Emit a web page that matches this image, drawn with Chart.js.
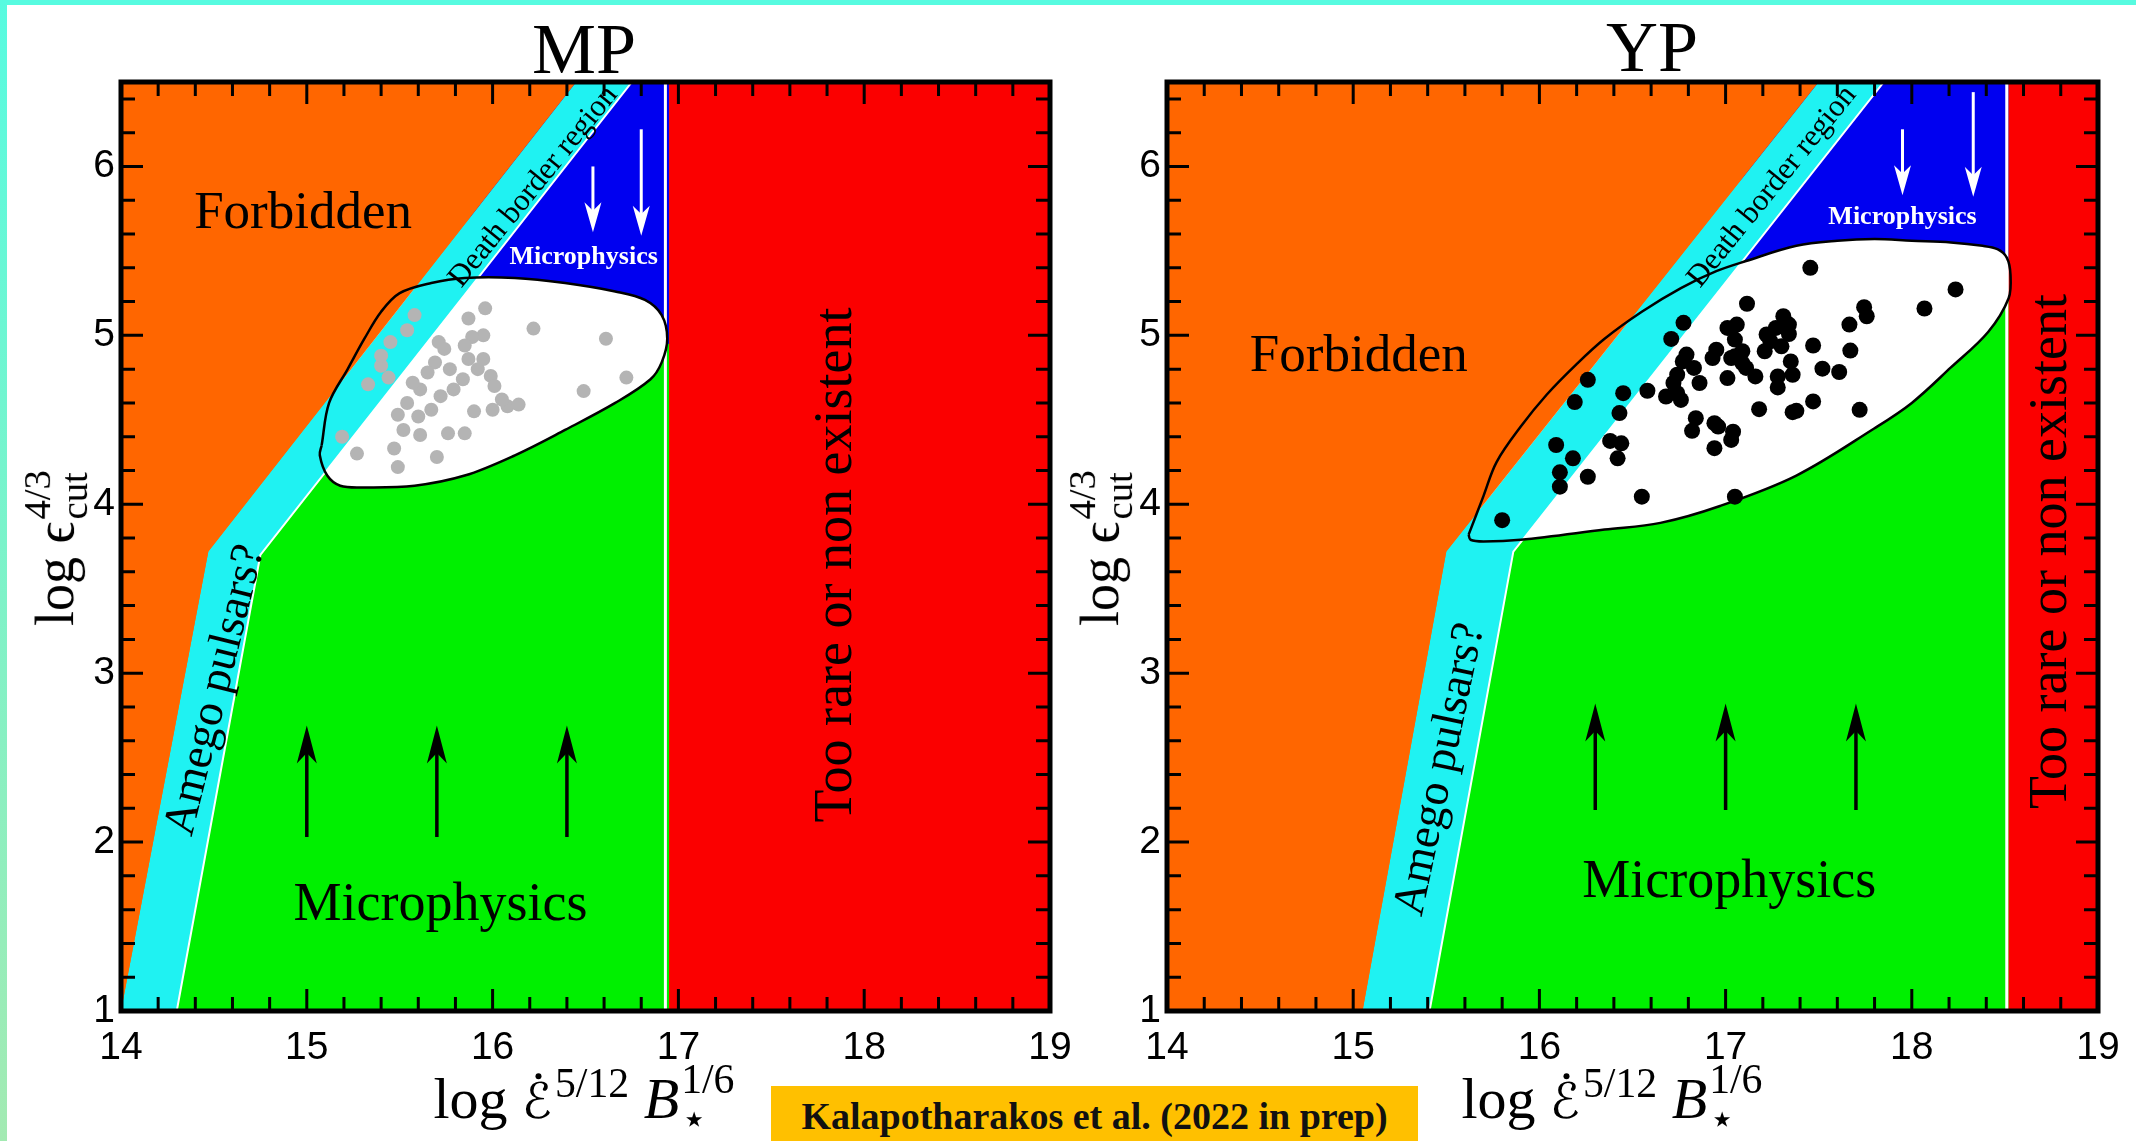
<!DOCTYPE html>
<html>
<head>
<meta charset="utf-8">
<title>MP / YP death-line diagram</title>
<script src="https://cdn.jsdelivr.net/npm/chart.js@4.4.1/dist/chart.umd.min.js"></script>
<style>
  html, body { margin: 0; padding: 0; }
  body { width: 2136px; height: 1141px; position: relative; overflow: hidden; background: #fff; }
  .edge-top { position: absolute; left: 0; top: 0; width: 2136px; height: 5px; background: #57fbe0; }
  .edge-left { position: absolute; left: 0; top: 0; width: 7px; height: 1141px; background: linear-gradient(#57fbe0, #a3eab2); }
  canvas { position: absolute; top: 0; }
  .tex { position: absolute; font-family: "Liberation Serif", "DejaVu Serif", serif; color: #000; white-space: nowrap; line-height: 1; transform: translate(-50%, -50%); }
  .ptitle { font-size: 72px; }
  .axt { font-size: 58px; }
  .yt { font-size: 54px; }
  .rot { transform: translate(-50%, -50%) rotate(-90deg); }
  .sup { font-size: 0.72em; vertical-align: 0.5em; }
  .ss { display: inline-block; font-size: 0.72em; line-height: 0.95; vertical-align: -0.36em; text-align: left; margin-left: 2px; }
  .ss span { display: block; }
  .cal { position: relative; font-family: "DejaVu Sans", sans-serif; font-size: 0.85em; margin-right: 3px; }
  .dot { position: absolute; left: 46%; top: 0.02em; width: 6px; height: 6px; border-radius: 50%; background: #000; }
  .credit { position: absolute; left: 771px; top: 1086px; width: 647px; height: 55px; background: #ffc000;
            font: bold 38px "Liberation Serif", serif; color: #111; text-align: center; line-height: 60px; }
</style>
</head>
<body>
<div class="edge-top"></div>
<div class="edge-left"></div>
<canvas id="mp" width="1100" height="1141" style="left:0"></canvas>
<canvas id="yp" width="1068" height="1141" style="left:1068px"></canvas>

<div class="tex ptitle" style="left:584px; top:49px">MP</div>
<div class="tex ptitle" style="left:1652px; top:47px">YP</div>

<div class="tex axt" style="left:584px; top:1100px">log <span class="cal">ℰ<i class="dot"></i></span><span class="sup">5/12</span> <i>B</i><span class="ss"><span>1/6</span><span>⋆</span></span></div>
<div class="tex axt" style="left:1612px; top:1100px">log <span class="cal">ℰ<i class="dot"></i></span><span class="sup">5/12</span> <i>B</i><span class="ss"><span>1/6</span><span>⋆</span></span></div>

<div class="tex yt rot" style="left:56px; top:548px">log ϵ<span class="ss"><span>4/3</span><span>cut</span></span></div>
<div class="tex yt rot" style="left:1101px; top:548px">log ϵ<span class="ss"><span>4/3</span><span>cut</span></span></div>

<div class="credit">Kalapotharakos et al. (2022 in prep)</div>

<script>
// axes
const xTicks = [14, 15, 16, 17, 18, 19];
const yTicks = [1, 2, 3, 4, 5, 6];
const xRange = [14, 19];
const yRange = [1, 6.5];

// ---- MP panel: region outlines (data units) ----
const mpBaseX = [14, 19, 19, 14];
const mpBaseY = [1, 1, 6.5, 6.5];
const mpForbidX = [14, 14.47, 16.45, 14];
const mpForbidY = [1, 3.72, 6.5, 6.5];
const mpCyanX = [14.0, 14.30, 14.75, 16.75, 16.45, 14.47];
const mpCyanY = [1, 1, 3.70, 6.5, 6.5, 3.72];
const mpCyanEdgeX = [14.30, 14.75, 16.75];
const mpCyanEdgeY = [1, 3.70, 6.5];
const mpGreenX = [14.25, 14.75, 15.3, 16.95, 16.95];
const mpGreenY = [1, 3.70, 4.6, 4.95, 1];
const mpBlueX = [15.3, 16.95, 16.95, 16.3];
const mpBlueY = [4.6, 4.95, 6.5, 6.5];
const mpRedX = [16.95, 19, 19, 16.95];
const mpRedY = [1, 1, 6.5, 6.5];
const mpSepX = [16.93, 16.93];
const mpSepY = [1, 6.5];
const mpEllX = [15.08, 15.12, 15.22, 15.31, 15.40, 15.50, 15.67, 15.85, 16.12, 16.39, 16.66, 16.82, 16.91, 16.94,
                16.91, 16.85, 16.66, 16.39, 16.12, 15.85, 15.58, 15.31, 15.18, 15.11, 15.07, 15.08];
const mpEllY = [4.35, 4.60, 4.80, 4.98, 5.14, 5.25, 5.31, 5.34, 5.34, 5.31, 5.26, 5.21, 5.12, 4.98,
                4.84, 4.74, 4.60, 4.44, 4.29, 4.17, 4.11, 4.10, 4.11, 4.17, 4.29, 4.35];
const mpDotX = [15.96, 15.87, 15.95, 15.89, 16.22, 16.61, 16.72, 16.49, 15.58, 15.54, 15.45, 15.40, 15.33, 15.44,
                15.71, 15.74, 15.69, 15.65, 15.87, 15.92, 15.99, 16.01, 15.84, 15.79, 15.72, 15.61, 15.54, 15.49,
                15.52, 15.61, 15.76, 15.85, 15.90, 16.00, 16.08, 16.14, 15.19, 15.27, 15.47, 15.70, 15.49, 15.60,
                15.67, 15.57, 15.77, 15.85, 15.95, 16.05, 15.40];
const mpDotY = [5.16, 5.10, 5.00, 4.99, 5.04, 4.98, 4.75, 4.67, 5.12, 5.03, 4.96, 4.82, 4.71, 4.75,
                4.96, 4.92, 4.84, 4.78, 4.86, 4.80, 4.76, 4.70, 4.74, 4.68, 4.64, 4.68, 4.60, 4.53,
                4.44, 4.41, 4.42, 4.42, 4.55, 4.56, 4.58, 4.59, 4.40, 4.30, 4.33, 4.28, 4.22, 4.52,
                4.56, 4.72, 4.80, 4.94, 4.86, 4.62, 4.88];
const mpUpX = [15.0, 15.7, 16.4];
const mpUpFrom = 2.03, mpUpTo = 2.69;
const mpDownX = [16.54, 16.80];
const mpDownFrom = [6.0, 6.22];
const mpDownTo = [5.61, 5.59];

// ---- YP panel ----
const ypBaseX = [14, 19, 19, 14];
const ypBaseY = [1, 1, 6.5, 6.5];
const ypForbidX = [14, 15.05, 15.5, 17.50, 14];
const ypForbidY = [1, 1, 3.72, 6.5, 6.5];
const ypCyanX = [15.05, 15.41, 15.86, 17.85, 17.50, 15.5];
const ypCyanY = [1, 1, 3.72, 6.5, 6.5, 3.72];
const ypCyanEdgeX = [15.41, 15.86, 17.85];
const ypCyanEdgeY = [1, 3.72, 6.5];
const ypGreenX = [15.38, 15.86, 16.2, 18.52, 18.52];
const ypGreenY = [1, 3.72, 4.3, 5.3, 1];
const ypBlueX = [16.2, 18.52, 18.52, 17.4];
const ypBlueY = [4.3, 5.3, 6.5, 6.5];
const ypRedX = [18.52, 19, 19, 18.52];
const ypRedY = [1, 1, 6.5, 6.5];
const ypSepX = [18.51, 18.51];
const ypSepY = [1, 6.5];
const ypEllX = [15.62, 15.70, 15.77, 15.90, 16.04, 16.20, 16.35, 16.55, 16.76, 16.95, 17.11, 17.38, 17.60, 17.80,
                18.00, 18.21, 18.38, 18.46, 18.51, 18.53, 18.52, 18.41, 18.21, 18.00, 17.80, 17.38, 16.97, 16.65,
                16.35, 15.90, 15.70, 15.63, 15.62];
const ypEllY = [3.82, 4.05, 4.25, 4.46, 4.65, 4.83, 4.98, 5.14, 5.28, 5.38, 5.44, 5.53, 5.56, 5.57,
                5.56, 5.55, 5.53, 5.51, 5.46, 5.36, 5.22, 5.02, 4.81, 4.60, 4.45, 4.17, 3.99, 3.89,
                3.85, 3.79, 3.78, 3.79, 3.82];
const ypDotX = [17.455, 18.235, 18.068, 17.744, 17.758, 17.665, 17.115, 16.774, 16.708, 17.31, 17.34, 17.34, 17.27,
                17.06, 17.01, 17.05, 17.47, 17.67, 17.30, 17.24, 17.21, 16.95, 16.93, 16.79, 17.05, 17.09, 17.03,
                17.11, 17.16, 17.35, 17.36, 17.28, 17.28, 17.52, 17.61, 17.01, 16.86, 16.83, 16.74, 16.72, 16.76,
                16.68, 16.58, 16.45, 16.43, 17.47, 17.38, 17.36, 17.18, 17.72, 16.84, 16.82, 16.94, 16.96, 17.04,
                17.03, 16.94, 16.38, 16.44, 16.42, 16.09, 16.18, 16.19, 16.26, 16.11, 16.11, 16.26, 16.55, 17.05,
                15.80, 16.77, 17.09, 17.22, 16.74];
const ypDotY = [5.40, 5.272, 5.159, 5.167, 5.113, 5.064, 5.187, 5.074, 4.979, 5.113, 5.064, 5.008, 5.044,
                5.064, 5.044, 4.975, 4.94, 4.91, 4.935, 4.965, 4.906, 4.915, 4.866, 4.886, 4.876, 4.836, 4.866,
                4.807, 4.757, 4.846, 4.767, 4.757, 4.692, 4.803, 4.783, 4.747, 4.718, 4.807, 4.767, 4.718, 4.618,
                4.638, 4.672, 4.658, 4.54, 4.609, 4.553, 4.545, 4.563, 4.559, 4.51, 4.435, 4.48, 4.46, 4.43,
                4.381, 4.332, 4.375, 4.361, 4.272, 4.351, 4.272, 4.605, 4.737, 4.189, 4.104, 4.163, 4.045, 4.045,
                3.906, 4.846, 4.906, 5.005, 4.658];
const ypUpX = [16.3, 17.0, 17.7];
const ypUpFrom = 2.19, ypUpTo = 2.82;
const ypDownX = [17.95, 18.33];
const ypDownFrom = [6.22, 6.44];
const ypDownTo = [5.83, 5.82];

const ORANGE = '#ff6600', CYAN = '#1ff2f2', GREEN = '#00f000', BLUE = '#0000f0', RED = '#fb0000';

function pts(xs, ys) {
    return xs.map((x, i) => ({ x: x, y: ys[i] }));
}

function poly(xs, ys, color, order) {
    return { data: pts(xs, ys), showLine: true, fill: 'shape', backgroundColor: color,
             borderColor: 'rgba(0,0,0,0)', borderWidth: 0, pointRadius: 0, order: order };
}

function line(xs, ys, color, width, order, tension) {
    return { data: pts(xs, ys), showLine: true, fill: false, borderColor: color, borderWidth: width,
             pointRadius: 0, tension: tension || 0, order: order };
}

function drawArrow(ctx, x0, y0, x1, y1, color, lw, hl, hw) {
    const a = Math.atan2(y1 - y0, x1 - x0);
    const c = Math.cos(a), s = Math.sin(a);
    ctx.strokeStyle = color;
    ctx.fillStyle = color;
    ctx.lineWidth = lw;
    ctx.beginPath();
    ctx.moveTo(x0, y0);
    ctx.lineTo(x1 - c * hl * 0.6, y1 - s * hl * 0.6);
    ctx.stroke();
    ctx.beginPath();
    ctx.moveTo(x1, y1);
    ctx.lineTo(x1 - c * hl - s * hw, y1 - s * hl + c * hw);
    ctx.lineTo(x1 - c * hl * 0.72, y1 - s * hl * 0.72);
    ctx.lineTo(x1 - c * hl + s * hw, y1 - s * hl - c * hw);
    ctx.closePath();
    ctx.fill();
}

// draws region labels, arrows, inward ticks and the frame
function decor(p) {
    return {
        id: 'decor',
        afterDatasetsDraw(chart) {
            const ctx = chart.ctx, x = chart.scales.x, y = chart.scales.y;
            ctx.save();
            p.upX.forEach(v => {
                drawArrow(ctx, x.getPixelForValue(v), y.getPixelForValue(p.upFrom),
                          x.getPixelForValue(v), y.getPixelForValue(p.upTo), '#000', 3.5, 38, 10);
            });
            p.downX.forEach((v, i) => {
                drawArrow(ctx, x.getPixelForValue(v), y.getPixelForValue(p.downFrom[i]),
                          x.getPixelForValue(v), y.getPixelForValue(p.downTo[i]), '#fff', 3, 30, 8.5);
            });
            p.labels.forEach(l => {
                ctx.save();
                ctx.translate(x.getPixelForValue(l.x), y.getPixelForValue(l.y));
                ctx.rotate((l.rot || 0) * Math.PI / 180);
                ctx.font = (l.bold ? 'bold ' : '') + l.size + 'px "Liberation Serif", serif';
                ctx.fillStyle = l.color || '#000';
                ctx.textAlign = 'center';
                ctx.textBaseline = 'middle';
                ctx.fillText(l.t, 0, 0);
                ctx.restore();
            });
            ctx.restore();
        },
        afterDraw(chart) {
            const ctx = chart.ctx, a = chart.chartArea, x = chart.scales.x, y = chart.scales.y;
            ctx.save();
            ctx.strokeStyle = '#000';
            ctx.lineWidth = 3;
            ctx.beginPath();
            for (let i = 0; i <= 25; i++) {
                const px = x.getPixelForValue(xRange[0] + i * 0.2);
                const len = i % 5 === 0 ? 22 : 14;
                ctx.moveTo(px, a.bottom); ctx.lineTo(px, a.bottom - len);
                ctx.moveTo(px, a.top); ctx.lineTo(px, a.top + len);
            }
            for (let i = 0; i <= 27; i++) {
                const py = y.getPixelForValue(yRange[0] + i * 0.2);
                const len = i % 5 === 0 ? 22 : 14;
                ctx.moveTo(a.left, py); ctx.lineTo(a.left + len, py);
                ctx.moveTo(a.right, py); ctx.lineTo(a.right - len, py);
            }
            ctx.stroke();
            ctx.lineWidth = 5;
            ctx.strokeRect(a.left, a.top, a.right - a.left, a.bottom - a.top);
            ctx.restore();
        }
    };
}

function makePanel(id, p) {
    const datasets = [
        poly(p.baseX, p.baseY, ORANGE, 20),
        poly(p.greenX, p.greenY, GREEN, 19),
        poly(p.blueX, p.blueY, BLUE, 18),
        Object.assign(poly(p.ellX, p.ellY, '#fff', 17), { tension: 0.35 }),
        poly(p.cyanX, p.cyanY, CYAN, 16),
        line(p.cyanEdgeX, p.cyanEdgeY, '#fff', 2, 15),
        poly(p.forbidX, p.forbidY, ORANGE, 14),
        poly(p.redX, p.redY, RED, 13),
        line(p.sepX, p.sepY, '#fff', 3, 12),
        line(p.ellX, p.ellY, '#000', 2.5, 11, 0.35),
        { data: pts(p.dotX, p.dotY), showLine: false, pointRadius: p.dotR, pointBackgroundColor: p.dotColor,
          pointBorderWidth: 0, pointBorderColor: p.dotColor, order: 10 }
    ];
    new Chart(document.getElementById(id), {
        type: 'scatter',
        data: { datasets: datasets },
        options: {
            responsive: false,
            animation: false,
            devicePixelRatio: 1,
            events: [],
            layout: { padding: p.pad },
            plugins: { legend: { display: false }, tooltip: { enabled: false } },
            scales: {
                x: {
                    type: 'linear', min: xRange[0], max: xRange[1],
                    afterBuildTicks: s => { s.ticks = xTicks.map(v => ({ value: v })); },
                    afterFit: s => { s.height = 50; s.paddingLeft = 0; s.paddingRight = 0; },
                    grid: { display: false, drawTicks: false },
                    border: { display: false },
                    ticks: { color: '#000', padding: 14, maxRotation: 0, autoSkip: false,
                             font: { family: '"Liberation Sans", Arial, sans-serif', size: 39 } }
                },
                y: {
                    type: 'linear', min: yRange[0], max: yRange[1],
                    afterBuildTicks: s => { s.ticks = yTicks.map(v => ({ value: v })); },
                    afterFit: s => { s.width = 60; s.paddingTop = 0; s.paddingBottom = 0; },
                    grid: { display: false, drawTicks: false },
                    border: { display: false },
                    ticks: { color: '#000', padding: 6, autoSkip: false,
                             font: { family: '"Liberation Sans", Arial, sans-serif', size: 39 } }
                }
            }
        },
        plugins: [decor(p)]
    });
}

makePanel('mp', {
    baseX: mpBaseX, baseY: mpBaseY, forbidX: mpForbidX, forbidY: mpForbidY,
    cyanX: mpCyanX, cyanY: mpCyanY, cyanEdgeX: mpCyanEdgeX, cyanEdgeY: mpCyanEdgeY,
    greenX: mpGreenX, greenY: mpGreenY, blueX: mpBlueX, blueY: mpBlueY,
    redX: mpRedX, redY: mpRedY, sepX: mpSepX, sepY: mpSepY,
    ellX: mpEllX, ellY: mpEllY, dotX: mpDotX, dotY: mpDotY, dotR: 7, dotColor: '#b4b4b4',
    upX: mpUpX, upFrom: mpUpFrom, upTo: mpUpTo, downX: mpDownX, downFrom: mpDownFrom, downTo: mpDownTo,
    pad: { left: 61, right: 50, top: 82, bottom: 80 },
    labels: [
        { t: 'Forbidden', x: 14.98, y: 5.72, size: 53 },
        { t: 'Microphysics', x: 15.72, y: 1.62, size: 54 },
        { t: 'Microphysics', x: 16.49, y: 5.46, size: 26, bold: true, color: '#fff' },
        { t: 'Death border region', x: 16.22, y: 5.88, size: 31, rot: -51 },
        { t: 'Amego pulsars?', x: 14.51, y: 2.90, size: 46, rot: -76 },
        { t: 'Too rare or non existent', x: 17.85, y: 3.64, size: 54, rot: -90 }
    ]
});

makePanel('yp', {
    baseX: ypBaseX, baseY: ypBaseY, forbidX: ypForbidX, forbidY: ypForbidY,
    cyanX: ypCyanX, cyanY: ypCyanY, cyanEdgeX: ypCyanEdgeX, cyanEdgeY: ypCyanEdgeY,
    greenX: ypGreenX, greenY: ypGreenY, blueX: ypBlueX, blueY: ypBlueY,
    redX: ypRedX, redY: ypRedY, sepX: ypSepX, sepY: ypSepY,
    ellX: ypEllX, ellY: ypEllY, dotX: ypDotX, dotY: ypDotY, dotR: 8, dotColor: '#000',
    upX: ypUpX, upFrom: ypUpFrom, upTo: ypUpTo, downX: ypDownX, downFrom: ypDownFrom, downTo: ypDownTo,
    pad: { left: 39, right: 38, top: 82, bottom: 80 },
    labels: [
        { t: 'Forbidden', x: 15.03, y: 4.87, size: 53 },
        { t: 'Microphysics', x: 17.02, y: 1.76, size: 54 },
        { t: 'Microphysics', x: 17.95, y: 5.70, size: 26, bold: true, color: '#fff' },
        { t: 'Death border region', x: 17.25, y: 5.88, size: 31, rot: -51 },
        { t: 'Amego pulsars?', x: 15.47, y: 2.43, size: 46, rot: -78 },
        { t: 'Too rare or non existent', x: 18.75, y: 3.72, size: 54, rot: -90 }
    ]
});
</script>
</body>
</html>
